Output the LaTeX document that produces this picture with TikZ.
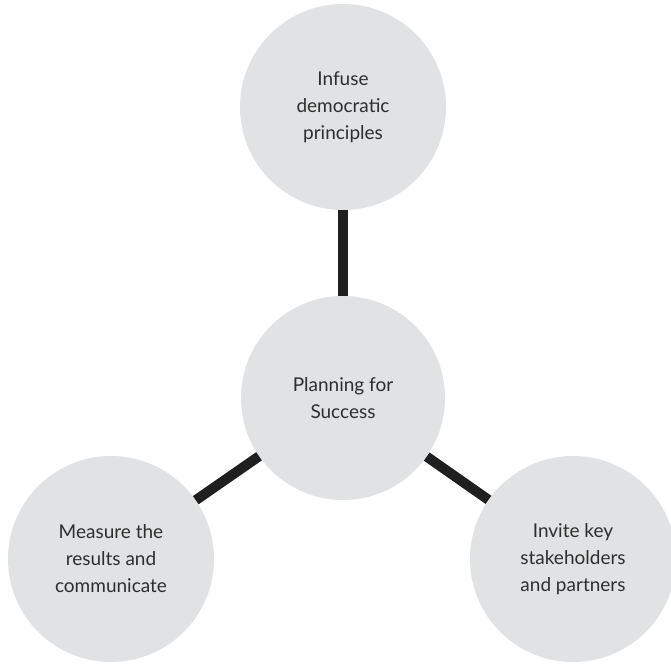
\documentclass[tikz,border=0pt]{standalone}
\usepackage{fontspec}
\setmainfont{Lato}
\begin{document}
\begin{tikzpicture}[x=1pt,y=-1pt,
  bubble/.style={circle, fill=bubblegray, draw=none, minimum size=206pt, inner sep=0pt,
    align=center, text=inkgray, font=\fontsize{19}{27}\selectfont},
  link/.style={line width=10pt, draw=black!88, line cap=butt}]
  \definecolor{bubblegray}{HTML}{E1E2E3}
  \definecolor{inkgray}{HTML}{2E2E2E}
  \useasboundingbox (0,0) rectangle (671,663);
  \fill[white] (0,0) rectangle (671,663);
  \node[bubble] (top) at (343,107) {Infuse\\democratic\\principles};
  \node[bubble, minimum size=204pt] (hub) at (343,398) {Planning for\\Success};
  \node[bubble] (left) at (111,559) {Measure the\\results and\\communicate};
  \node[bubble] (right) at (573,559) {Invite key\\stakeholders\\and partners};
  \draw[link] (hub) -- (top);
  \draw[link] (hub) -- (left);
  \draw[link] (hub) -- (right);
\end{tikzpicture}
\end{document}
